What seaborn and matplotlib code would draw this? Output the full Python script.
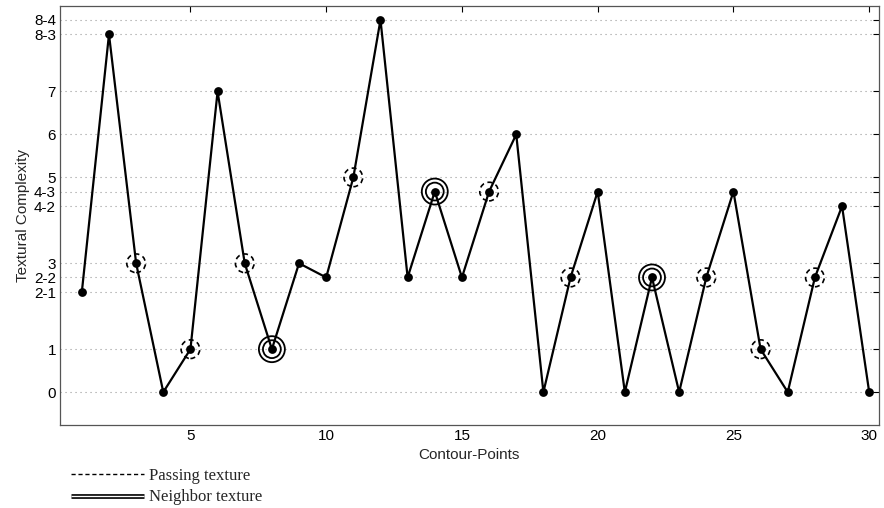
import numpy as np
import pandas as pd
import seaborn as sns
import matplotlib.pyplot as plt
from matplotlib.lines import Line2D
import matplotlib.patheffects as pe

# data
points = list(range(1, 31))
complexity = [2.33, 8.33, 3, 0, 1, 7, 3, 1, 3, 2.67,
              5, 8.67, 2.67, 4.67, 2.67, 4.67, 6, 0, 2.67, 4.67,
              0, 2.67, 0, 2.67, 4.67, 1, 0, 2.67, 4.33, 0]
passing_idx = [3, 5, 7, 11, 16, 19, 24, 26, 28]
neighbor_idx = [8, 14, 22]
ytick_vals = [0, 1, 2.33, 2.67, 3, 4.33, 4.67, 5, 6, 7, 8.33, 8.67]
ytick_labels = ['0', '1', '2-1', '2-2', '3', '4-2', '4-3', '5', '6', '7', '8-3', '8-4']
xtick_vals = [5, 10, 15, 20, 25, 30]

df = pd.DataFrame({'point': points, 'complexity': complexity})
df_pass = df[df['point'].isin(passing_idx)]
df_neigh = df[df['point'].isin(neighbor_idx)]

sns.set_style('white')
plt.rcParams['font.family'] = ['Liberation Sans', 'DejaVu Sans']

fig = plt.figure(figsize=(8.84, 5.08), dpi=100)
ax = fig.add_axes([0.068, 0.163, 0.926, 0.826])

# horizontal dotted grid at every tick level
for v in ytick_vals:
    ax.axhline(v, color='#999999', lw=0.8, ls=(0, (1, 3.5)), zorder=0)

sns.lineplot(data=df, x='point', y='complexity', color='black', lw=1.6, ax=ax, zorder=2)
sns.scatterplot(data=df, x='point', y='complexity', color='black', s=40,
                edgecolor='black', linewidth=0, ax=ax, zorder=3)

# passing texture: dashed circles
ax.scatter(df_pass['point'], df_pass['complexity'], s=180, facecolors='none',
           edgecolors='black', linewidths=1.2, linestyle=(0, (3, 2.2)), zorder=4)
# neighbor texture: double circles
ax.scatter(df_neigh['point'], df_neigh['complexity'], s=350, facecolors='none',
           edgecolors='black', linewidths=1.3, zorder=4)
ax.scatter(df_neigh['point'], df_neigh['complexity'], s=165, facecolors='none',
           edgecolors='black', linewidths=1.3, zorder=4)

ax.set_xlim(0.2, 30.35)
ax.set_ylim(-0.77, 9.0)
ax.set_xticks(xtick_vals)
ax.set_yticks(ytick_vals)
ax.set_yticklabels(ytick_labels)
ax.tick_params(direction='in', length=4, width=0.8, top=True, right=True,
               labelsize=11, colors='black', pad=3)
ax.set_xlabel('Contour-Points', fontsize=11, labelpad=3)
ax.set_ylabel('Textural Complexity', fontsize=11, labelpad=3)
for s in ax.spines.values():
    s.set_visible(True)
    s.set_color('#555555')
    s.set_linewidth(0.9)

handles = [
    Line2D([], [], color='black', lw=1.0, ls=(0, (3, 2))),
    Line2D([], [], color='white', lw=1.0, solid_capstyle='butt',
           path_effects=[pe.Stroke(linewidth=3.4, foreground='black', capstyle='butt'),
                         pe.Normal()]),
]
leg = ax.legend(handles, ['Passing texture', 'Neighbor texture'],
                loc='upper left', bbox_to_anchor=(0.005, -0.085), frameon=False,
                prop={'family': 'Liberation Serif', 'size': 12}, handlelength=4.4,
                handletextpad=0.3, labelspacing=0.35, borderaxespad=0)

fig.savefig('out.png', dpi=100)
